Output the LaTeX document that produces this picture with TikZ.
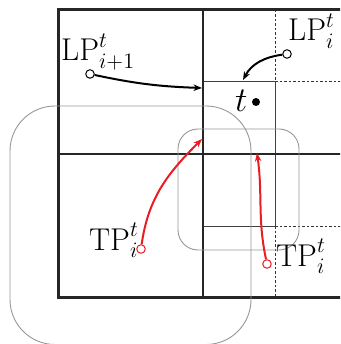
\RequirePackage{fix-cm}
\documentclass[tikz,border=0pt]{standalone}
\usepackage{graphicx}
\usetikzlibrary{arrows.meta}
\definecolor{myred}{RGB}{232,30,36}
\definecolor{mygray}{RGB}{150,150,150}
\tikzset{
  frame/.style={line width=3pt, black!85},
  mid/.style={line width=2.1pt, black!85},
  thin/.style={line width=0.8pt, black!75},
  dashline/.style={line width=0.9pt, black!80, dash pattern=on 2.5pt off 2pt},
  region/.style={line width=0.9pt, draw=mygray},
  lbl/.style={inner sep=0pt, anchor=base west, font=\fontsize{21}{25}\selectfont},
  pt/.style={circle, draw, fill=white, inner sep=0pt, minimum size=8.5pt, line width=1pt},
  arr/.style={line width=2pt, -{Stealth[length=8.5pt,width=6.5pt]}},
}
\begin{document}
\begin{tikzpicture}[x=1pt,y=-1pt]
\useasboundingbox (0,0) rectangle (340,344);
\begin{scope}
\clip (0,0) rectangle (340,344);
% grid
\draw[dashline] (275,10) -- (275,81);
\draw[dashline] (275,226) -- (275,297);
\draw[dashline] (275,81) -- (345,81);
\draw[dashline] (275,226) -- (345,226);
\draw[thin] (203,81) rectangle (275,226);
\draw[mid] (203,10) -- (203,297);
\draw[mid] (58,154) -- (345,154);
\draw[frame] (345,10) -- (58,10) -- (58,297) -- (345,297);
% regions
\draw[region, rounded corners=45pt] (10,106) rectangle (251,344.5);
\draw[region, rounded corners=20pt] (178,129) rectangle (299,250);
\end{scope}
% labels
\node[lbl] (lp1) at (61,61) {\scalebox{1.5}{$\mathrm{LP}^t_{i+1}$}};
\node[lbl] (lp0) at (288,41) {\scalebox{1.5}{$\mathrm{LP}^t_{i}$}};
\node[lbl] (tpl) at (89,250) {\scalebox{1.5}{$\mathrm{TP}^t_{i}$}};
\node[lbl] (tpr) at (276,266) {\scalebox{1.5}{$\mathrm{TP}^t_{i}$}};
\node[inner sep=0pt, anchor=base west, font=\fontsize{29}{32}\selectfont] (tl) at (235,112) {\scalebox{1.2}{$t$}};
\fill (256,102) circle (4pt) coordinate (tdot);
% points
\node[pt] (c1) at (90,74) {};
\node[pt] (c2) at (287,54) {};
\node[pt, draw=myred] (c3) at (141,249) {};
\node[pt, draw=myred] (c4) at (267,264) {};
\coordinate (e1) at (202,88);
\coordinate (e2) at (243,80);
\coordinate (e3) at (202,139);
\coordinate (e4) at (257,153);
\draw[arr] (c1) to[out=-12,in=178] (e1);
\draw[arr] (c2) to[out=188,in=62] (e2);
\draw[arr, myred] (c3) to[out=82,in=225] (e3);
\draw[arr, myred] (c4) to[out=102,in=-82] (e4);
\end{tikzpicture}
\end{document}
